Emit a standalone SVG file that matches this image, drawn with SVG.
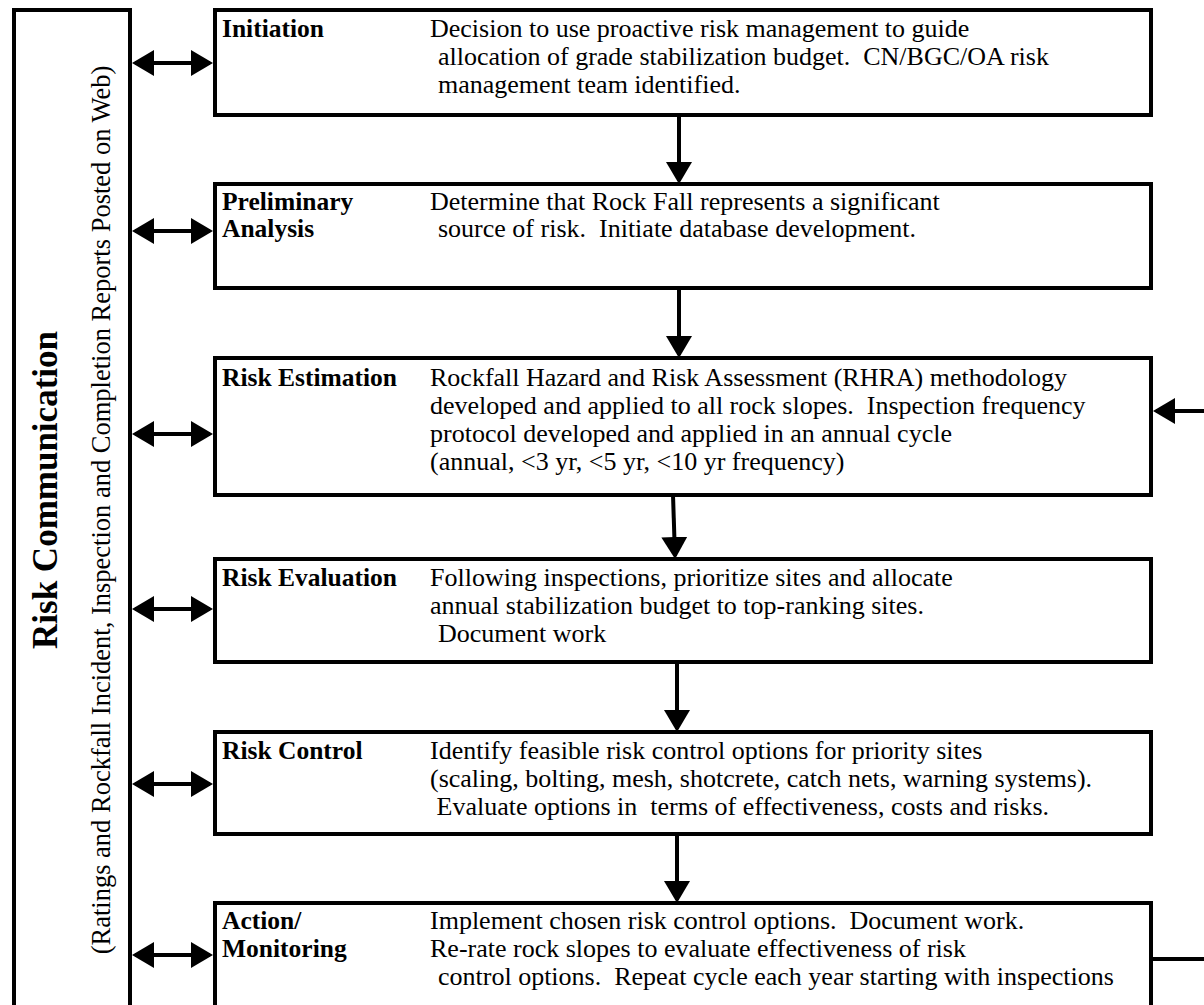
<svg xmlns="http://www.w3.org/2000/svg" width="1204" height="1005" viewBox="0 0 1204 1005">
<style>
  .box { fill: #fff; stroke: #000; stroke-width: 4; }
  .lbl { font-family: "Liberation Serif", "Times New Roman", serif; font-size: 25.5px; font-weight: bold; fill: #000; }
  .txt { font-family: "Liberation Serif", "Times New Roman", serif; font-size: 26px; fill: #000; white-space: pre; }
  .conn { stroke: #000; stroke-width: 4; fill: none; }
  .title { font-family: "Liberation Serif", "Times New Roman", serif; font-size: 35px; font-weight: bold; fill: #000; }
  .sub { font-family: "Liberation Serif", "Times New Roman", serif; font-size: 26.5px; fill: #000; }
</style>
<defs>
  <marker id="ah" viewBox="0 0 22 26" refX="19" refY="13" markerWidth="22" markerHeight="26" markerUnits="userSpaceOnUse" orient="auto-start-reverse">
    <path d="M0,0L22,13L0,26z" fill="#000"/>
  </marker>
</defs>
<rect width="1204" height="1005" fill="#fff"/>

<g id="risk-communication">
  <rect class="box" x="14" y="10" width="116" height="1100"/>
  <text class="title" transform="translate(57,490) rotate(-90)" text-anchor="middle">Risk Communication</text>
  <text class="sub" transform="translate(110,510) rotate(-90)" text-anchor="middle">(Ratings and Rockfall Incident, Inspection and Completion Reports Posted on Web)</text>
</g>

<g id="initiation">
  <rect class="box" x="215" y="10" width="936" height="105"/>
  <text class="lbl" x="222" y="37">Initiation</text>
  <text class="txt" xml:space="preserve"><tspan x="430" y="37">Decision to use proactive risk management to guide</tspan><tspan x="438" y="65">allocation of grade stabilization budget.  CN/BGC/OA risk</tspan><tspan x="438" y="93">management team identified.</tspan></text>
</g>

<g id="preliminary-analysis">
  <rect class="box" x="215" y="184" width="936" height="104"/>
  <text class="lbl"><tspan x="222" y="210">Preliminary</tspan><tspan x="222" y="237">Analysis</tspan></text>
  <text class="txt" xml:space="preserve"><tspan x="430" y="210">Determine that Rock Fall represents a significant</tspan><tspan x="438" y="237">source of risk.  Initiate database development.</tspan></text>
</g>

<g id="risk-estimation">
  <rect class="box" x="215" y="358" width="936" height="137"/>
  <text class="lbl" x="222" y="386">Risk Estimation</text>
  <text class="txt" xml:space="preserve"><tspan x="430" y="386">Rockfall Hazard and Risk Assessment (RHRA) methodology</tspan><tspan x="430" y="414">developed and applied to all rock slopes.  Inspection frequency</tspan><tspan x="430" y="442">protocol developed and applied in an annual cycle</tspan><tspan x="430" y="470">(annual, &lt;3 yr, &lt;5 yr, &lt;10 yr frequency)</tspan></text>
</g>

<g id="risk-evaluation">
  <rect class="box" x="215" y="559" width="936" height="103"/>
  <text class="lbl" x="222" y="586">Risk Evaluation</text>
  <text class="txt" xml:space="preserve"><tspan x="430" y="586">Following inspections, prioritize sites and allocate</tspan><tspan x="430" y="614">annual stabilization budget to top-ranking sites.</tspan><tspan x="438" y="642">Document work</tspan></text>
</g>

<g id="risk-control">
  <rect class="box" x="215" y="732" width="936" height="102"/>
  <text class="lbl" x="222" y="759">Risk Control</text>
  <text class="txt" xml:space="preserve"><tspan x="430" y="759">Identify feasible risk control options for priority sites</tspan><tspan x="430" y="787">(scaling, bolting, mesh, shotcrete, catch nets, warning systems).</tspan><tspan x="430" y="815"> Evaluate options in  terms of effectiveness, costs and risks.</tspan></text>
</g>

<g id="action-monitoring">
  <rect class="box" x="215" y="903" width="936" height="200"/>
  <text class="lbl"><tspan x="222" y="929">Action/</tspan><tspan x="222" y="957">Monitoring</tspan></text>
  <text class="txt" xml:space="preserve"><tspan x="430" y="929">Implement chosen risk control options.  Document work.</tspan><tspan x="430" y="957">Re-rate rock slopes to evaluate effectiveness of risk</tspan><tspan x="438" y="985">control options.  Repeat cycle each year starting with inspections</tspan></text>
</g>

<g id="connectors">
  <line class="conn" x1="679" y1="115" x2="679" y2="181" marker-end="url(#ah)"/>
  <line class="conn" x1="679" y1="288" x2="679" y2="355" marker-end="url(#ah)"/>
  <line class="conn" x1="673" y1="495" x2="675" y2="556" marker-end="url(#ah)"/>
  <line class="conn" x1="677" y1="662" x2="677" y2="729" marker-end="url(#ah)"/>
  <line class="conn" x1="677" y1="834" x2="677" y2="900" marker-end="url(#ah)"/>
  <line class="conn" x1="135" y1="63" x2="210" y2="63" marker-start="url(#ah)" marker-end="url(#ah)"/>
  <line class="conn" x1="135" y1="231" x2="210" y2="231" marker-start="url(#ah)" marker-end="url(#ah)"/>
  <line class="conn" x1="135" y1="434" x2="210" y2="434" marker-start="url(#ah)" marker-end="url(#ah)"/>
  <line class="conn" x1="135" y1="609" x2="210" y2="609" marker-start="url(#ah)" marker-end="url(#ah)"/>
  <line class="conn" x1="135" y1="784" x2="210" y2="784" marker-start="url(#ah)" marker-end="url(#ah)"/>
  <line class="conn" x1="135" y1="955" x2="210" y2="955" marker-start="url(#ah)" marker-end="url(#ah)"/>
  <line class="conn" x1="1204" y1="411" x2="1156" y2="411" marker-end="url(#ah)"/>
  <line class="conn" x1="1151" y1="959" x2="1204" y2="959"/>
</g>
</svg>
